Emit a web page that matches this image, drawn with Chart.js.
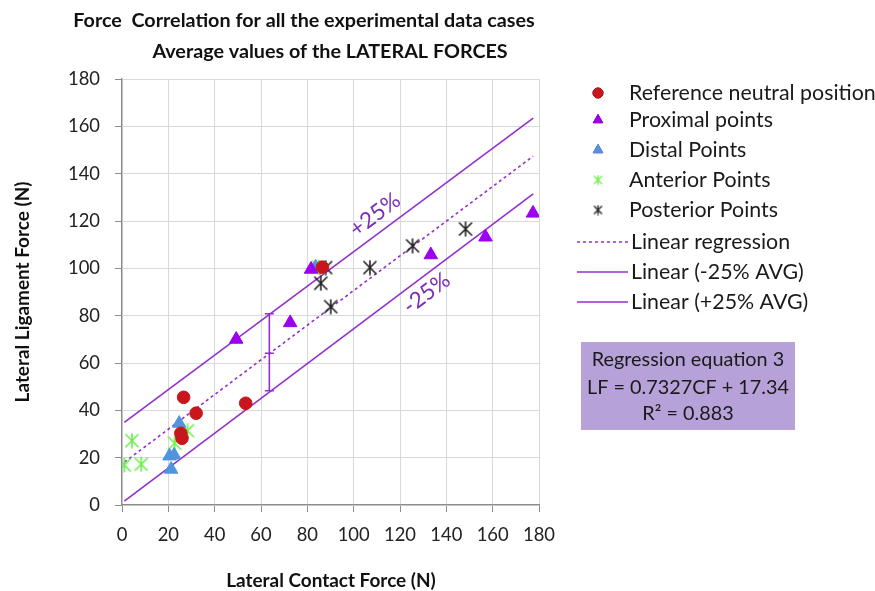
<!DOCTYPE html>
<html>
<head>
<meta charset="utf-8">
<script src="https://cdn.jsdelivr.net/npm/chart.js@4.4.1/dist/chart.umd.min.js"></script>
<style>
  html, body { margin: 0; padding: 0; background: #fff; }
</style>
</head>
<body>
<canvas id="chart" width="875" height="591"></canvas>
<script>
// values
const refX = [26.6, 32.0, 53.4, 25.4, 25.9, 86.5];
const refY = [45.5, 38.8, 43.0, 30.3, 28.2, 100.5];
const proxX = [49.3, 72.6, 81.6, 133.3, 156.9, 177.4];
const proxY = [70.0, 77.0, 99.6, 105.7, 113.2, 123.3];
const distX = [24.7, 20.5, 22.5, 21.2, 83.6];
const distY = [34.5, 20.7, 21.1, 15.1, 100.5];
const antX = [4.3, 1.0, 8.3, 22.7, 28.3, 84.8];
const antY = [27.2, 16.9, 17.2, 26.1, 31.4, 100.5];
const postX = [87.9, 85.8, 90.1, 107.0, 125.4, 148.3];
const postY = [100.3, 93.7, 83.8, 100.3, 109.5, 116.6];

// trend lines (end points)
const lineX = [1, 177.5];
const regY = [18.1, 147.4];
const lowY = [1.6, 131.5];
const highY = [34.9, 163.5];

// error bar on the regression line
const errX = [63.6];
const errLow = [48.3];
const errMid = [64.1];
const errHigh = [80.8];

const xTicks = [0, 20, 40, 60, 80, 100, 120, 140, 160, 180];
const yTicks = [0, 20, 40, 60, 80, 100, 120, 140, 160, 180];

const titleLines = ["Force  Correlation for all the experimental data cases", "Average values of the LATERAL FORCES"];
const xTitle = "Lateral Contact Force (N)";
const yTitle = "Lateral Ligament Force (N)";
const boxLines = ["Regression equation 3", "LF = 0.7327CF + 17.34", "R\u00B2 = 0.883"];
const bandLabels = ["+25%", "-25%"];
const bandLabelX = [109.2, 131.5];
const bandLabelY = [122.6, 89.5];

const FONT = "Lato";
const purple = "#9330CC";

// work out a font size so a string gets the width it has in the picture
const mctx = document.createElement("canvas").getContext("2d");
function fitSize(text, width, weight) {
  mctx.font = `${weight} 100px ${FONT}`;
  return 100 * width / mctx.measureText(text).width;
}

const tickSize = fitSize("180", 32, "normal");
const legendSize = fitSize("Proximal points", 144, "normal");
const boxSize = fitSize(boxLines[1], 202, "normal");
const titleSize = (fitSize(titleLines[0], 448, "bold") + fitSize(titleLines[1], 366, "bold")) / 2;
const axisTitleSize = fitSize(yTitle, 221, "bold");
const bandSize = fitSize(bandLabels[0], 57, "normal");

// Excel style asterisk marker
function makeStar(color, size, lw) {
  const c = document.createElement("canvas");
  c.width = size; c.height = size;
  const g = c.getContext("2d");
  g.strokeStyle = color;
  g.lineWidth = lw;
  const m = 1.5, e = size - 1.5;
  g.beginPath();
  g.moveTo(m, m); g.lineTo(e, e);
  g.moveTo(e, m); g.lineTo(m, e);
  g.moveTo(size / 2, 0.5); g.lineTo(size / 2, size - 0.5);
  g.stroke();
  return c;
}

function pts(xs, ys) {
  return xs.map((x, i) => ({ x: x, y: ys[i] }));
}

const datasets = [
  { label: "Reference neutral position", data: pts(refX, refY), pointStyle: "circle", pointRadius: 6.3,
    backgroundColor: "#C8161D", borderColor: "#C8161D", showLine: false, legendMark: "circle" },
  { label: "Proximal points", data: pts(proxX, proxY), pointStyle: "triangle", pointRadius: 7.8,
    backgroundColor: "#9B00F0", borderColor: "#9B00F0", showLine: false, legendMark: "triangle" },
  { label: "Distal Points", data: pts(distX, distY), pointStyle: "triangle", pointRadius: 7.8,
    backgroundColor: "#4F95DE", borderColor: "#4F95DE", showLine: false, legendMark: "triangle" },
  { label: "Anterior Points", data: pts(antX, antY), pointStyle: makeStar("#6BF04A", 16, 1.6), pointRadius: 8,
    backgroundColor: "#6BF04A", borderColor: "#6BF04A", showLine: false, legendMark: "star" },
  { label: "Posterior Points", data: pts(postX, postY), pointStyle: makeStar("#222222", 16, 1.6), pointRadius: 8,
    backgroundColor: "#222222", borderColor: "#222222", showLine: false, legendMark: "star" },
  { label: "Linear regression", data: pts(lineX, regY), showLine: true, pointRadius: 0,
    borderColor: purple, borderWidth: 1.6, borderDash: [3, 3], legendMark: "line" },
  { label: "Linear (-25% AVG)", data: pts(lineX, lowY), showLine: true, pointRadius: 0,
    borderColor: purple, borderWidth: 1.6, legendMark: "line" },
  { label: "Linear (+25% AVG)", data: pts(lineX, highY), showLine: true, pointRadius: 0,
    borderColor: purple, borderWidth: 1.6, legendMark: "line" }
];

// error bar, band labels, legend, text box and titles
const extras = {
  id: "extras",
  afterDatasetsDraw(chart) {
    const ctx = chart.ctx, xs = chart.scales.x, ys = chart.scales.y;
    ctx.save();
    ctx.strokeStyle = purple;
    ctx.lineWidth = 1.6;
    errX.forEach((x, i) => {
      const px = xs.getPixelForValue(x);
      const lo = ys.getPixelForValue(errLow[i]);
      const mid = ys.getPixelForValue(errMid[i]);
      const hi = ys.getPixelForValue(errHigh[i]);
      ctx.beginPath();
      ctx.moveTo(px, lo); ctx.lineTo(px, hi);
      [lo, mid, hi].forEach(py => { ctx.moveTo(px - 4.5, py); ctx.lineTo(px + 4.5, py); });
      ctx.stroke();
    });

    // +25% / -25% labels follow the slope of the lines
    const angle = Math.atan2(ys.getPixelForValue(regY[1]) - ys.getPixelForValue(regY[0]),
                             xs.getPixelForValue(lineX[1]) - xs.getPixelForValue(lineX[0]));
    ctx.fillStyle = "#7A2DB8";
    ctx.font = `${bandSize}px ${FONT}`;
    ctx.textAlign = "center";
    ctx.textBaseline = "middle";
    bandLabels.forEach((t, i) => {
      ctx.save();
      ctx.translate(xs.getPixelForValue(bandLabelX[i]), ys.getPixelForValue(bandLabelY[i]));
      ctx.rotate(angle);
      ctx.fillText(t, 0, 0);
      ctx.restore();
    });
    ctx.restore();
  },
  afterDraw(chart) {
    const ctx = chart.ctx;
    ctx.save();

    // titles
    ctx.fillStyle = "#111";
    ctx.textAlign = "center";
    ctx.textBaseline = "middle";
    ctx.font = `bold ${titleSize}px ${FONT}`;
    ctx.fillText(titleLines[0], 304, 21);
    ctx.fillText(titleLines[1], 330, 52);

    ctx.font = `bold ${axisTitleSize}px ${FONT}`;
    ctx.fillText(xTitle, 331, 581);
    ctx.save();
    ctx.translate(23, 292);
    ctx.rotate(-Math.PI / 2);
    ctx.fillText(yTitle, 0, 0);
    ctx.restore();

    // legend
    const rows = [93, 120, 150, 180, 210, 242, 272, 302];
    ctx.font = `${legendSize}px ${FONT}`;
    ctx.textAlign = "left";
    chart.data.datasets.forEach((ds, i) => {
      const y = rows[i];
      if (ds.legendMark === "line") {
        ctx.save();
        ctx.strokeStyle = ds.borderColor;
        ctx.lineWidth = 1.6;
        ctx.setLineDash(ds.borderDash || []);
        ctx.beginPath();
        ctx.moveTo(577, y); ctx.lineTo(628, y);
        ctx.stroke();
        ctx.restore();
      } else if (ds.legendMark === "star") {
        const img = makeStar(ds.borderColor, 11, 1.3);
        ctx.drawImage(img, 598 - 5.5, y - 5.5);
      } else {
        Chart.helpers.drawPoint(ctx, {
          pointStyle: ds.legendMark, radius: ds.legendMark === "circle" ? 5 : 5.5,
          borderWidth: 1, rotation: 0
        }, 598, y);
        ctx.fillStyle = ds.backgroundColor;
        ctx.strokeStyle = ds.borderColor;
        ctx.fill();
        ctx.stroke();
      }
      ctx.fillStyle = "#1a1a1a";
      ctx.fillText(ds.label, ds.legendMark === "line" ? 631 : 629, y);
    });

    // regression equation box
    ctx.fillStyle = "#B6A1D8";
    ctx.fillRect(581, 342, 214, 88);
    ctx.fillStyle = "#1a1a1a";
    ctx.textAlign = "center";
    ctx.font = `${boxSize}px ${FONT}`;
    [360, 388, 414].forEach((y, i) => ctx.fillText(boxLines[i], 688, y));

    ctx.restore();
  }
};

const axisCommon = {
  type: "linear",
  min: 0,
  max: 180,
  grid: { color: "#D9D9D9", tickColor: "#8C8C8C", tickLength: 7, lineWidth: 1 },
  border: { color: "#8C8C8C", width: 1.3 }
};

new Chart(document.getElementById("chart"), {
  type: "scatter",
  data: { datasets: datasets },
  options: {
    responsive: false,
    animation: false,
    layout: { padding: { top: 79, right: 336, left: 0, bottom: 0 } },
    plugins: { legend: { display: false }, title: { display: false }, tooltip: { enabled: false } },
    scales: {
      x: Object.assign({}, axisCommon, {
        afterBuildTicks(s) { s.ticks = xTicks.map(v => ({ value: v })); },
        ticks: { color: "#222", font: { family: FONT, size: tickSize }, padding: 12, maxRotation: 0, autoSkip: false },
        afterFit(s) { s.height = 86; }
      }),
      y: Object.assign({}, axisCommon, {
        afterBuildTicks(s) { s.ticks = yTicks.map(v => ({ value: v })); },
        ticks: { color: "#222", font: { family: FONT, size: tickSize }, padding: 15 },
        afterFit(s) { s.width = 122; }
      })
    }
  },
  plugins: [extras]
});
</script>
</body>
</html>
